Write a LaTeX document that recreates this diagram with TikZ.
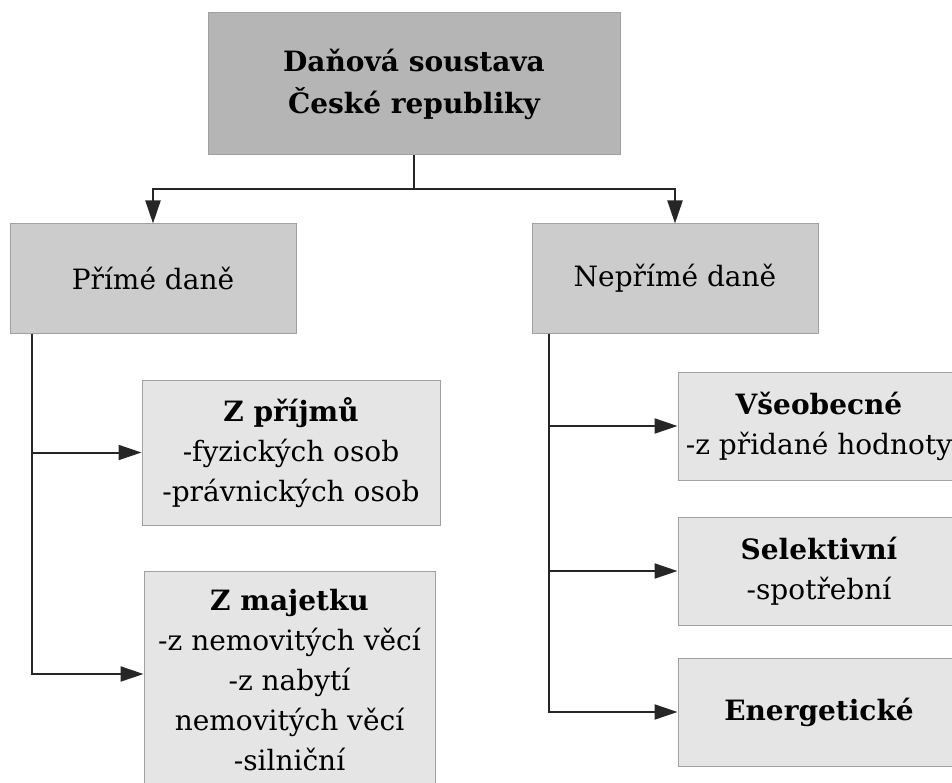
\documentclass[tikz,border=0pt]{standalone}
\usepackage{fontspec}
\setmainfont{DejaVu Serif}
\usetikzlibrary{arrows.meta}
\tikzset{
    rootbox/.style = {rectangle, draw=gray!74, fill=gray!58, line width=1pt,
                      minimum width=412pt, minimum height=142pt, align=center,
                      font=\fontsize{28}{42}\selectfont\bfseries},
    groupbox/.style = {rectangle, draw=gray!74, fill=gray!40, line width=1pt,
                      minimum width=286pt, minimum height=109pt, align=center,
                      font=\fontsize{28}{40}\selectfont},
    itembox/.style = {rectangle, draw=gray!74, fill=gray!20, line width=1pt,
                      minimum width=282pt, minimum height=108pt, inner sep=2pt,
                      align=center, font=\fontsize{28}{40}\selectfont},
    arrow/.style = {line width=2pt, draw=black!85,
                    -{Triangle[length=23pt, width=15pt]}},
}

\begin{document}
\begin{tikzpicture}[x=1pt, y=-1pt, node distance=145pt]
\useasboundingbox (0,0) rectangle (952,783);
\clip (0,0) rectangle (952,783);
\node (root) [rootbox] at (414,84) {Daňová soustava\\České republiky};
\node (direct) [groupbox, below of=root, xshift=-261pt, yshift=-49.5pt] {Přímé daně};
\node (indirect) [groupbox, below of=root, xshift=261pt, yshift=-49.5pt] {Nepřímé daně};
\node (income) [itembox, below of=direct, xshift=138pt, yshift=-29pt,
                minimum width=298pt, minimum height=145pt]
    {\textbf{Z příjmů}\\-fyzických osob\\-právnických osob};
\node (property) [itembox, below of=income, xshift=-1.5pt, yshift=-83pt,
                  minimum width=291pt, minimum height=219pt]
    {\textbf{Z majetku}\\-z nemovitých věcí\\-z nabytí\\nemovitých věcí\\-silniční};
\node (general) [itembox, below of=indirect, xshift=144pt, yshift=-2.5pt]
    {\textbf{Všeobecné}\\-z přidané hodnoty};
\node (selective) [itembox, below of=general] {\textbf{Selektivní}\\-spotřební};
\node (energy) [itembox, below of=selective, yshift=4pt] {\textbf{Energetické}};

% Arrows
\coordinate (split) at ([yshift=-34pt]root.south);
\coordinate (dtrunk) at ([xshift=22pt]direct.south west);
\coordinate (itrunk) at ([xshift=17pt]indirect.south west);
\draw[line width=2pt, draw=black!85] (root.south) -- (split);
\draw[arrow] (split) -| (direct);
\draw[arrow] (split) -| (indirect);
\draw[arrow] (dtrunk) |- (income);
\draw[arrow] (dtrunk) |- ([yshift=6.5pt]property.west);
\draw[arrow] (itrunk) |- (general);
\draw[arrow] (itrunk) |- (selective);
\draw[arrow] (itrunk) |- (energy);
\end{tikzpicture}
\end{document}
